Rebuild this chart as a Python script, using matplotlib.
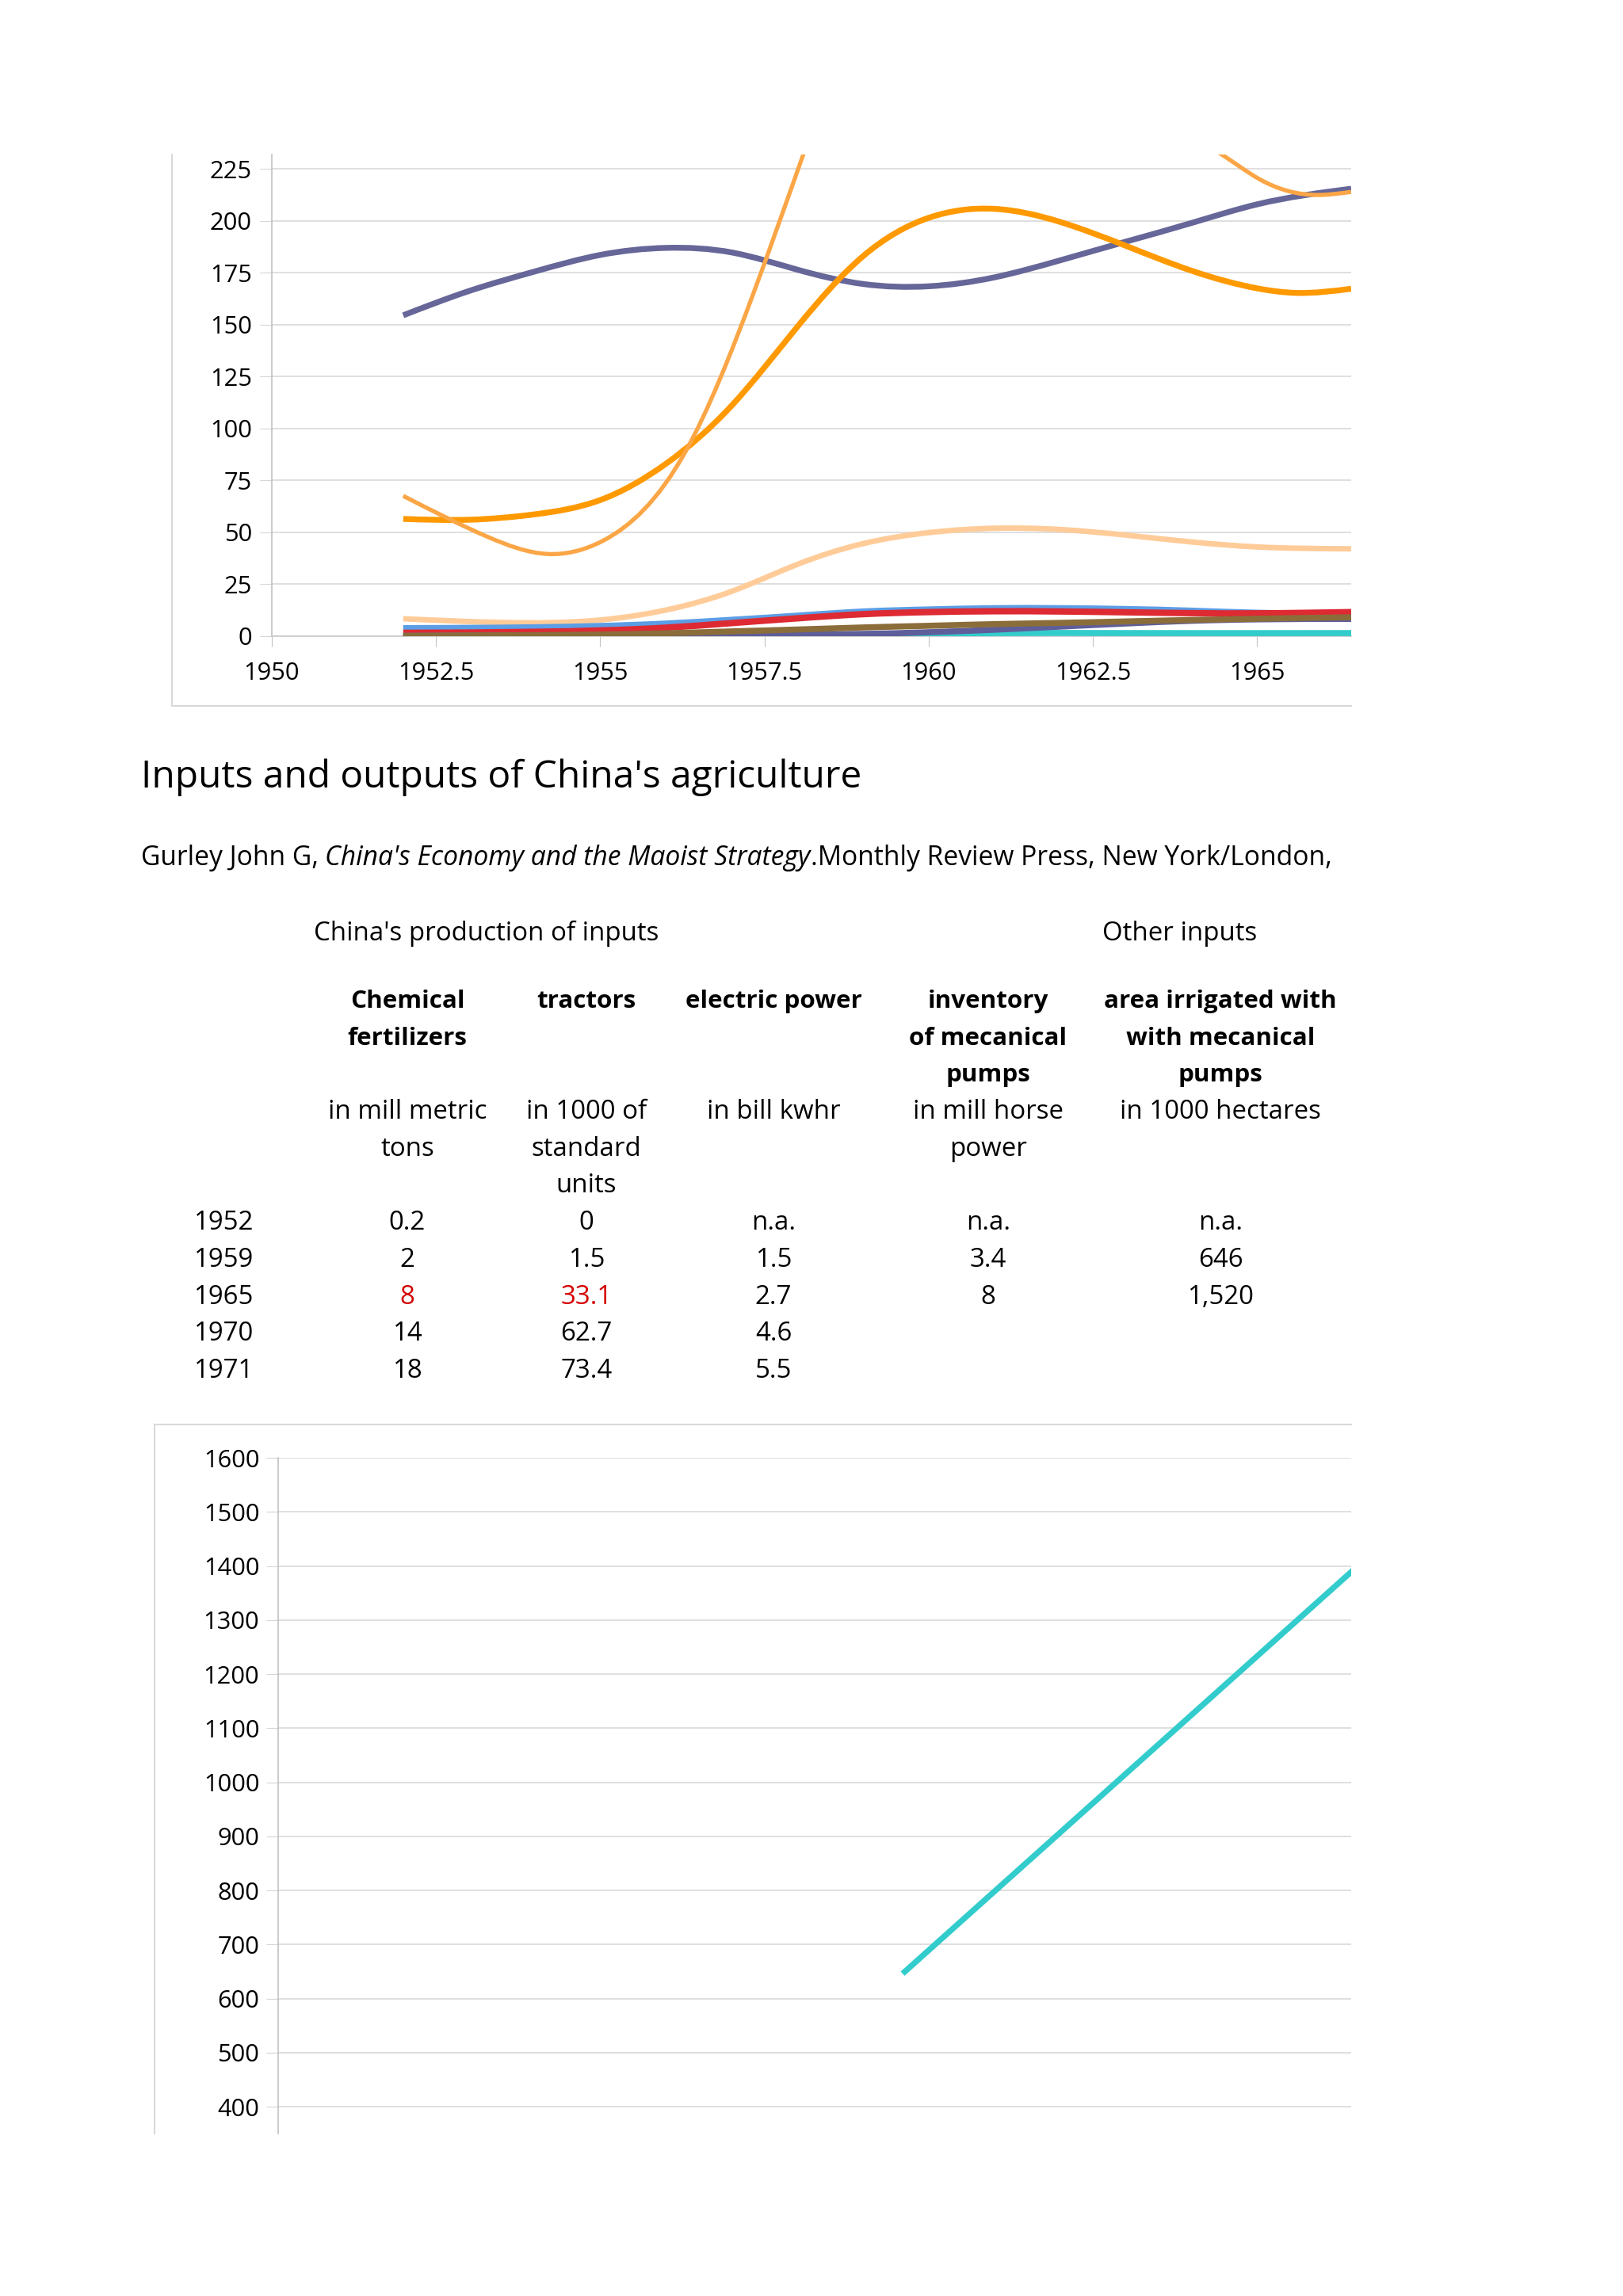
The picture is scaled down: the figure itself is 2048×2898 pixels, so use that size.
import numpy as np
import matplotlib
matplotlib.use('Agg')
from matplotlib import pyplot as plt
from matplotlib.path import Path
from matplotlib.patches import PathPatch
from matplotlib.lines import Line2D

plt.rcParams['font.family'] = ['Open Sans', 'DejaVu Sans']

W, H = 2048, 2898

# ---- top chart series (year, value) ----
purple_x = [1952, 1953, 1954, 1955, 1956, 1957, 1958, 1959, 1960, 1961, 1962, 1963, 1964, 1965, 1966.43]
purple_y = [154.5, 166.2, 175.6, 183.6, 187, 184.8, 176.5, 169.6, 168.5, 172.8, 181, 190, 199, 208, 215.5]

orange_x = [1952, 1953, 1954, 1955, 1956, 1957, 1958, 1959, 1960, 1961, 1962, 1963, 1964, 1965, 1965.6, 1966.43]
orange_y = [56.4, 56, 58.6, 65.5, 83, 111, 149, 183, 201.5, 205.8, 199.5, 188, 176, 167.5, 165.3, 167.3]

lorange_x = [1952, 1953.29, 1954.2, 1955.03, 1956.3, 1957.33, 1958.09, 1958.6, 1960, 1962, 1963.5,
             1964.44, 1965.04, 1965.9, 1966.43]
lorange_y = [67.5, 47.7, 39.5, 45.7, 89, 165, 232, 275, 330, 310, 252,
             232.4, 220, 212.5, 214]

peach_x = [1952, 1953.5, 1955, 1956, 1957, 1958, 1959, 1960, 1961, 1962, 1963, 1964, 1965, 1966.43]
peach_y = [8.3, 6.5, 7.7, 12.5, 21.5, 34.5, 44.5, 49.8, 51.9, 51.3, 48.6, 45.3, 42.9, 42]

blue_x = [1952, 1954, 1956, 1957, 1958, 1959, 1960, 1961, 1962, 1963, 1964, 1965, 1966.43]
blue_y = [3.8, 4.2, 6, 7.8, 9.8, 11.8, 12.8, 13.4, 13.4, 13, 12.2, 11.2, 10.8]

red_x = [1952, 1954, 1956, 1957, 1958, 1959, 1960, 1961, 1962, 1963, 1964, 1965, 1966.43]
red_y = [1.5, 2, 4, 6.2, 8.5, 10.5, 11.5, 11.9, 11.8, 11.4, 11, 10.9, 11.5]

dpurple_x = [1952, 1955, 1957, 1959, 1960, 1961, 1962, 1963, 1964, 1965, 1966.43]
dpurple_y = [0, 0.3, 0.7, 1, 1.8, 3, 4.5, 6, 7.3, 8, 8.2]

teal_x = [1952, 1957, 1959, 1960, 1961, 1963, 1966.43]
teal_y = [0, 0.2, 0.5, 1.1, 1.4, 1.4, 1.4]

brown_x = [1952, 1954, 1955, 1956, 1957, 1958, 1959, 1960, 1961, 1962, 1963, 1964, 1965, 1966.43]
brown_y = [0, 0.4, 0.7, 1.3, 2.2, 3.1, 4.1, 4.9, 5.7, 6.3, 7, 7.7, 8.3, 9]

top_xticks = [1950, 1952.5, 1955, 1957.5, 1960, 1962.5, 1965]
top_xlabels = ['1950', '1952.5', '1955', '1957.5', '1960', '1962.5', '1965']

# ---- table ----
years = ['1952', '1959', '1965', '1970', '1971']
fertilizers = ['0.2', '2', '8', '14', '18']
tractors = ['0', '1.5', '33.1', '62.7', '73.4']
power = ['n.a.', '1.5', '2.7', '4.6', '5.5']
pumps = ['n.a.', '3.4', '8', '', '']
irrigated = ['n.a.', '646', '1,520', '', '']
headers = ['Chemical\nfertilizers', 'tractors', 'electric power',
           'inventory\nof mecanical\npumps', 'area irrigated with\nwith mecanical\npumps']
units = ['in mill metric\ntons', 'in 1000 of\nstandard\nunits', 'in bill kwhr',
         'in mill horse\npower', 'in 1000 hectares']

# ---- bottom chart ----
irr_years = [1959, 1965]
irr_vals = [646, 1520]

GRID = '#d6d6d6'
BORDER = '#d9d9d9'
FS = 23.8


def smooth_path(xs, ys):
    # natural cubic spline through the points, drawn as bezier segments
    x = np.asarray(xs, float)
    y = np.asarray(ys, float)
    n = len(x)
    h = np.diff(x)
    M = np.zeros(n)
    if n > 2:
        A = np.zeros((n - 2, n - 2))
        b = np.zeros(n - 2)
        for i in range(1, n - 1):
            A[i - 1, i - 1] = 2 * (h[i - 1] + h[i])
            if i > 1:
                A[i - 1, i - 2] = h[i - 1]
            if i < n - 2:
                A[i - 1, i] = h[i]
            b[i - 1] = 6 * ((y[i + 1] - y[i]) / h[i] - (y[i] - y[i - 1]) / h[i - 1])
        M[1:-1] = np.linalg.solve(A, b)
    m = np.zeros(n)
    for i in range(n - 1):
        m[i] = (y[i + 1] - y[i]) / h[i] - h[i] * (2 * M[i] + M[i + 1]) / 6
    m[-1] = (y[-1] - y[-2]) / h[-1] + h[-1] * (M[-2] + 2 * M[-1]) / 6
    verts = [(x[0], y[0])]
    codes = [Path.MOVETO]
    for i in range(n - 1):
        verts += [(x[i] + h[i] / 3, y[i] + m[i] * h[i] / 3),
                  (x[i + 1] - h[i] / 3, y[i + 1] - m[i + 1] * h[i] / 3),
                  (x[i + 1], y[i + 1])]
        codes += [Path.CURVE4] * 3
    return Path(verts, codes)


def fx(px):
    return px / W


def fy(py):
    return 1 - py / H


fig = plt.figure(figsize=(W / 100, H / 100), dpi=100)

# ================= top chart =================
ax1 = fig.add_axes([fx(343), fy(802.7), (1705 - 343) / W, (802.7 - 195) / H])
ax1.set_xlim(1950, 1966.43)
ax1.set_ylim(0, 232)

series = [
    (purple_x, purple_y, '#666699', 5.3),
    (orange_x, orange_y, '#ff9900', 5.3),
    (lorange_x, lorange_y, '#fba646', 3.8),
    (peach_x, peach_y, '#ffcc99', 5.0),
    (blue_x, blue_y, '#5b9ee6', 5.5),
    (red_x, red_y, '#dd2a33', 5.8),
    (teal_x, teal_y, '#33cccc', 5.5),
    (dpurple_x, dpurple_y, '#5e5e9a', 5.5),
    (brown_x, brown_y, '#8b6d3a', 5.5),
]
for xs, ys, col, lw in series:
    ax1.add_patch(PathPatch(smooth_path(xs, ys), fill=False, edgecolor=col, lw=lw,
                            capstyle='butt', joinstyle='round', zorder=3))

ax1.set_yticks(range(0, 226, 25))
ax1.set_xticks(top_xticks)
ax1.set_xticklabels(top_xlabels)
ax1.tick_params(axis='y', length=11, color=GRID, pad=7, labelsize=22.2)
ax1.tick_params(axis='x', length=9.5, color='#c4c4c4', pad=14, labelsize=22.2)
ax1.yaxis.grid(True, color=GRID, lw=1.1)
ax1.set_axisbelow(True)
for s in ['top', 'right']:
    ax1.spines[s].set_visible(False)
ax1.spines['left'].set_color('#bdbdbd')
ax1.spines['bottom'].set_color('#c4c4c4')
ax1.spines['left'].set_linewidth(1.1)
ax1.spines['bottom'].set_linewidth(1.1)

fig.add_artist(Line2D([fx(217), fx(217)], [fy(195), fy(891)], color=BORDER, lw=1.5))
fig.add_artist(Line2D([fx(217), fx(1705)], [fy(891), fy(891)], color=BORDER, lw=1.5))

# ================= texts =================
fig.text(fx(178), fy(994), "Inputs and outputs of China's agriculture", fontsize=34.5, va='baseline')

renderer = fig.canvas.get_renderer()
x0 = 178
parts = [("Gurley John G,", 'normal', 8), ("China's Economy and the Maoist Strategy", 'italic', 1),
         (".Monthly Review Press, New York/London,", 'normal', 0)]
for txt, style, gap in parts:
    t = fig.text(fx(x0), fy(1092), txt, fontsize=24.2, style=style, va='baseline')
    bb = t.get_window_extent(renderer)
    x0 = bb.x1 + gap

fig.text(fx(396), fy(1187), "China's production of inputs", fontsize=FS, va='baseline')
fig.text(fx(1391), fy(1187), "Other inputs", fontsize=FS, va='baseline')

col_x = [514, 740, 976, 1247, 1540]
line_h = 46.7
y_head = 1272
for cx, hd, un in zip(col_x, headers, units):
    for k, s in enumerate(hd.split('\n')):
        fig.text(fx(cx), fy(y_head + k * line_h), s, fontsize=22.6, fontweight='bold',
                 ha='center', va='baseline')
    for k, s in enumerate(un.split('\n')):
        fig.text(fx(cx), fy(y_head + (3 + k) * line_h), s, fontsize=FS,
                 ha='center', va='baseline')

columns = [fertilizers, tractors, power, pumps, irrigated]
for r, yr in enumerate(years):
    yy = y_head + (6 + r) * line_h
    fig.text(fx(244), fy(yy), yr, fontsize=FS, va='baseline')
    for c, (cx, col) in enumerate(zip(col_x, columns)):
        color = '#d40000' if (yr == '1965' and c < 2) else 'black'
        fig.text(fx(cx), fy(yy), col[r], fontsize=FS, ha='center', va='baseline', color=color)

# ================= bottom chart =================
ax2 = fig.add_axes([fx(351), fy(2693), (1705 - 351) / W, (2693 - 1840) / H])
ax2.set_xlim(1951.9, 1964.1)
ax2.set_ylim(350.2, 1600)
ax2.plot(irr_years, irr_vals, color='#33cccc', lw=5.3, solid_capstyle='butt', zorder=3)
ax2.set_yticks(range(400, 1601, 100))
ax2.set_xticks([])
ax2.tick_params(axis='y', length=11, color=GRID, pad=6, labelsize=22.2)
ax2.yaxis.grid(True, color=GRID, lw=1.1)
ax2.set_axisbelow(True)
for s in ['top', 'right', 'bottom']:
    ax2.spines[s].set_visible(False)
ax2.spines['left'].set_color('#bdbdbd')
ax2.spines['left'].set_linewidth(1.1)

fig.add_artist(Line2D([fx(195), fx(195)], [fy(1798), fy(2693)], color=BORDER, lw=1.5))
fig.add_artist(Line2D([fx(195), fx(1705)], [fy(1798), fy(1798)], color=BORDER, lw=1.5))

fig.savefig('out.png', dpi=100, facecolor='white')
